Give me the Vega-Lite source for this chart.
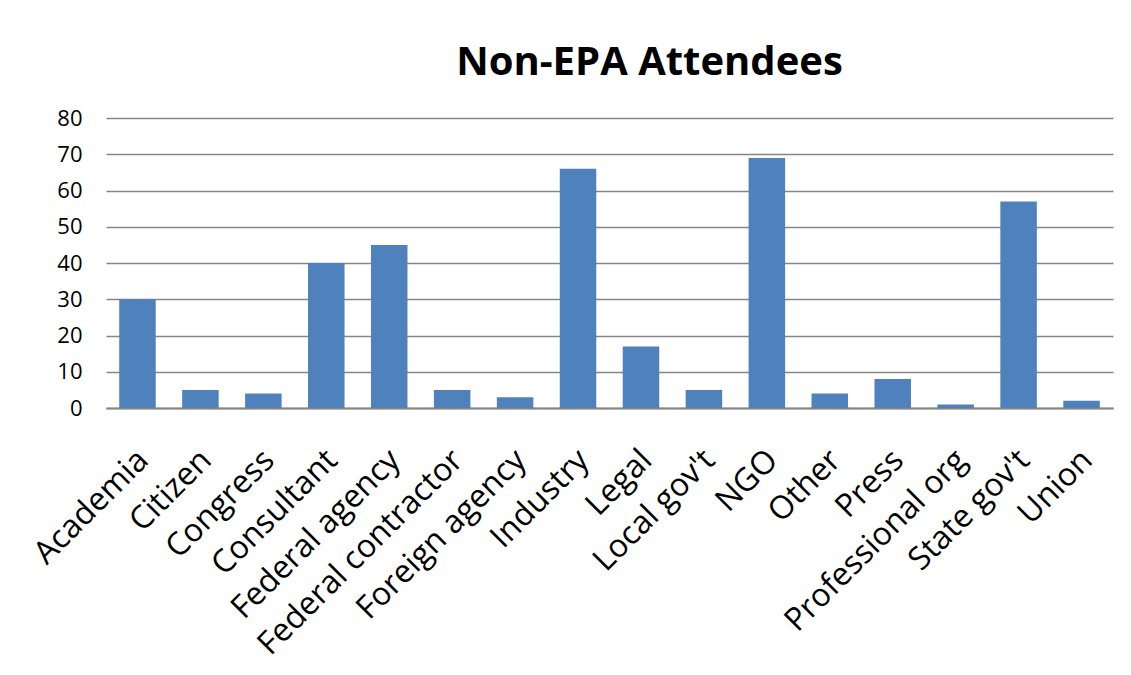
{
  "$schema": "https://vega.github.io/schema/vega-lite/v6.json",
  "autosize": {"type": "none"},
  "padding": {"left": 106, "top": 118, "right": 18, "bottom": 267},
  "width": 1007,
  "height": 290,
  "background": "white",
  "title": {
    "text": "Non-EPA Attendees",
    "font": "Open Sans",
    "fontSize": 40,
    "fontWeight": "bold",
    "color": "#000000",
    "anchor": "middle",
    "dx": 40,
    "offset": 24
  },
  "data": {
    "values": [
      {"category": "Academia", "count": 30},
      {"category": "Citizen", "count": 5},
      {"category": "Congress", "count": 4},
      {"category": "Consultant", "count": 40},
      {"category": "Federal agency", "count": 45},
      {"category": "Federal contractor", "count": 5},
      {"category": "Foreign agency", "count": 3},
      {"category": "Industry", "count": 66},
      {"category": "Legal", "count": 17},
      {"category": "Local gov't", "count": 5},
      {"category": "NGO", "count": 69},
      {"category": "Other", "count": 4},
      {"category": "Press", "count": 8},
      {"category": "Professional org", "count": 1},
      {"category": "State gov't", "count": 57},
      {"category": "Union", "count": 2}
    ]
  },
  "mark": {"type": "bar", "color": "#4F81BD"},
  "encoding": {
    "x": {
      "field": "category",
      "type": "nominal",
      "sort": null,
      "scale": {"paddingInner": 0.42, "paddingOuter": 0.21},
      "axis": {
        "title": null,
        "labelAngle": -45,
        "labelFont": "Open Sans",
        "labelFontSize": 32,
        "labelColor": "#000000",
        "labelPadding": 36,
        "labelOffset": -5,
        "ticks": false,
        "domainColor": "#868686",
        "domainWidth": 2,
        "labelLimit": 400
      }
    },
    "y": {
      "field": "count",
      "type": "quantitative",
      "scale": {"domain": [0, 80]},
      "axis": {
        "title": null,
        "values": [0, 10, 20, 30, 40, 50, 60, 70, 80],
        "labelFont": "Open Sans",
        "labelFontSize": 22,
        "labelColor": "#000000",
        "labelPadding": 24,
        "ticks": false,
        "domain": false,
        "gridColor": "#868686",
        "gridWidth": 1.5
      }
    }
  },
  "config": {"view": {"stroke": null}}
}
